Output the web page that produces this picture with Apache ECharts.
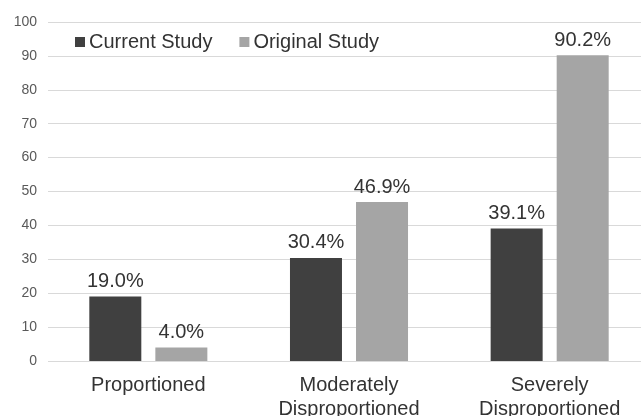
<!DOCTYPE html>
<html>
<head>
<meta charset="utf-8">
<script src="https://cdn.jsdelivr.net/npm/echarts@6/dist/echarts.min.js"></script>
<style>
  html, body { margin: 0; padding: 0; background: #fff; }
  #chart { width: 641px; height: 416px; }
</style>
</head>
<body>
<div id="chart"></div>
<script>
// Categories and percentages per study
const categories = ['Proportioned', 'Moderately\nDisproportioned', 'Severely\nDisproportioned'];
const currentStudy = [19.0, 30.4, 39.1];
const originalStudy = [4.0, 46.9, 90.2];
const yTicks = [0, 10, 20, 30, 40, 50, 60, 70, 80, 90, 100];

const font = 'Liberation Sans, Arial, sans-serif';

const chart = echarts.init(document.getElementById('chart'), null, { renderer: 'canvas' });

const valueLabel = {
  show: true,
  position: 'top',
  distance: 5,
  fontFamily: font,
  fontSize: 20,
  color: '#333333',
  formatter: p => p.value.toFixed(1) + '%'
};

chart.setOption({
  animation: false,
  backgroundColor: '#ffffff',
  grid: { left: 48, right: -9, top: 22, bottom: 55, outerBoundsMode: 'none', containLabel: false },
  legend: {
    left: 70,
    top: 27,
    itemWidth: 10,
    itemHeight: 10,
    itemGap: 27,
    icon: 'rect',
    textStyle: { fontFamily: font, fontSize: 20, color: '#333333', padding: [0, 0, 0, -1] },
    data: ['Current Study', 'Original Study']
  },
  xAxis: {
    type: 'category',
    data: categories,
    axisLine: { show: false },
    axisTick: { show: false },
    axisLabel: {
      fontFamily: font,
      fontSize: 20,
      color: '#333333',
      margin: 12,
      lineHeight: 24
    }
  },
  yAxis: {
    type: 'value',
    min: yTicks[0],
    max: yTicks[yTicks.length - 1],
    interval: 10,
    axisLine: { show: false },
    axisTick: { show: false },
    axisLabel: { fontFamily: font, fontSize: 14, color: '#595959', margin: 11 },
    splitLine: { lineStyle: { color: '#d9d9d9', width: 1 } }
  },
  series: [
    {
      name: 'Current Study',
      type: 'bar',
      data: currentStudy,
      barWidth: 52,
      barGap: '27%',
      itemStyle: { color: '#404040' },
      label: valueLabel
    },
    {
      name: 'Original Study',
      type: 'bar',
      data: originalStudy,
      barWidth: 52,
      barGap: '27%',
      itemStyle: { color: '#a5a5a5' },
      label: valueLabel
    }
  ]
});
</script>
</body>
</html>
